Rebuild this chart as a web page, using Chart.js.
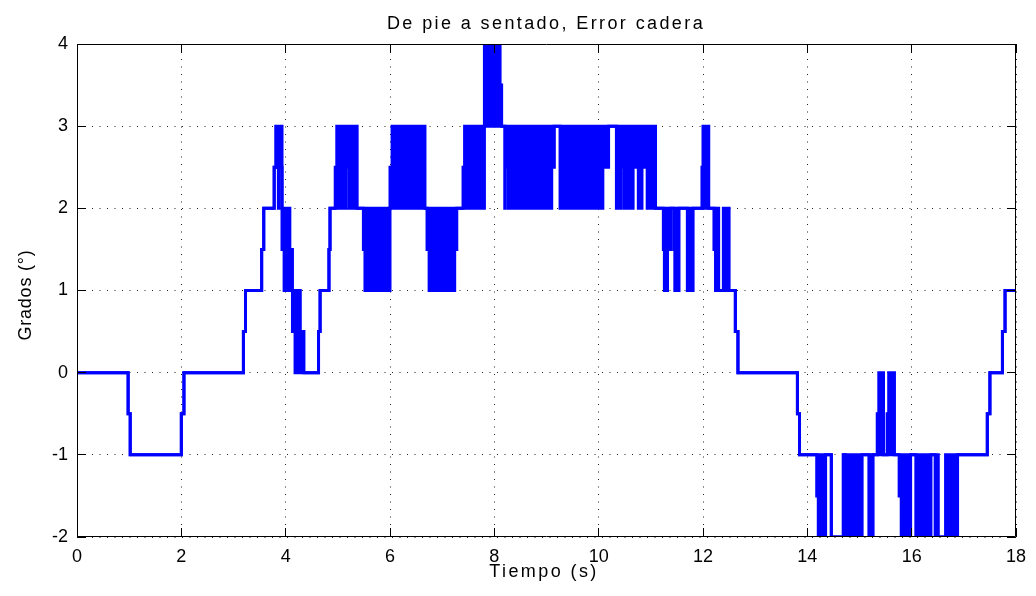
<!DOCTYPE html>
<html>
<head>
<meta charset="utf-8">
<title>De pie a sentado, Error cadera</title>
<script src="https://cdn.jsdelivr.net/npm/chart.js@4.4.0/dist/chart.umd.min.js"></script>
<style>
  html, body { margin: 0; padding: 0; background: #fff; }
  #wrap { width: 1036px; height: 596px; position: relative; }
</style>
</head>
<body>
<div id="wrap"><canvas id="chart"></canvas></div>
<script>
const titulo = 'De pie a sentado, Error cadera';
const etiquetaX = 'Tiempo (s)';
const etiquetaY = 'Grados (°)';
const ticksX = [0, 2, 4, 6, 8, 10, 12, 14, 16, 18];
const ticksY = [-2, -1, 0, 1, 2, 3, 4];

// instantes (s) donde cambia la señal; superior/inferior = envolvente de la oscilación rápida
const tiempo = [
  0, 0.98, 1.02, 2.00, 2.05, 3.19, 3.23, 3.54, 3.58, 3.78, 3.81, 3.86, 3.87,
  3.93, 3.97, 4.08, 4.13, 4.18, 4.28, 4.35, 4.63, 4.66, 4.83, 4.85,
  4.95, 4.98, 5.07, 5.12, 5.16, 5.22, 5.37, 5.49, 5.52, 5.57, 5.61,
  6.00, 6.04, 6.13, 6.18, 6.30, 6.34, 6.67, 6.71, 6.75, 7.12, 7.17, 7.24, 7.28,
  7.40, 7.43, 7.67, 7.71, 7.81, 8.11, 8.14, 8.20, 8.21, 8.27, 8.40, 8.43,
  9.10, 9.15, 9.26, 9.46, 9.49, 10.01, 10.06, 10.08, 10.19, 10.34, 10.42, 10.48,
  10.66, 10.76, 10.83, 10.93, 11.09, 11.24, 11.26, 11.32, 11.38, 11.44, 11.46, 11.54,
  11.70, 11.81, 11.98, 12.00, 12.11, 12.21, 12.24, 12.30, 12.39, 12.50, 12.62, 12.67,
  13.81, 13.85, 14.18, 14.21, 14.35, 14.46, 14.69, 14.73, 14.80, 14.84, 15.05,
  15.18, 15.26, 15.34, 15.37, 15.46, 15.53, 15.56, 15.67, 15.76, 15.80, 15.98,
  16.08, 16.20, 16.24, 16.37, 16.45, 16.51, 16.65, 16.88, 17.45, 17.50, 17.74, 17.79, 18.00
];
const superior = [
  0, -0.5, -1, -0.5, 0, 0.5, 1, 1.5, 2, 2.5, 3, 3, 3,
  2, 2, 1.5, 1, 1, 0.5, 0, 0.5, 1, 1.5, 2,
  2.5, 3, 2.5, 3, 3, 3, 2, 2, 2, 2, 2,
  2.5, 3, 3, 3, 3, 3, 2, 2, 2, 2, 2, 2, 2,
  2.5, 3, 3, 3, 4, 3.5, 3, 3, 3, 3, 3, 3,
  3, 3, 3, 3, 3, 3, 3, 3, 3, 3, 3, 3,
  3, 3, 3, 3, 2, 2, 2, 2, 2, 2, 2, 2,
  2, 2, 2.5, 3, 2, 2, 2, 1, 2, 1, 0.5, 0,
  -0.5, -1, -1, -1, -1, -2, -1, -1, -1, -1, -1,
  -1, -1, -0.5, 0, -1, -0.5, 0, -1, -1, -1, -1,
  -1, -1, -1, -1, -1, -2, -1, -1, -0.5, 0, 0.5, 1, 1
];
const inferior = [
  0, -0.5, -1, -0.5, 0, 0.5, 1, 1.5, 2, 2.5, 2.5, 2, 2.5,
  1.5, 1, 1, 0.5, 0, 0, 0, 0.5, 1, 1.5, 2,
  2, 2, 2, 2, 2.5, 2, 2, 1.5, 1, 1.5, 1,
  2, 2, 2.5, 2, 2.5, 2, 2, 1.5, 1, 1.5, 1, 1.5, 2,
  2, 2, 2.5, 2, 3, 3, 3, 2, 2.5, 2, 2.5, 2,
  2.5, 3, 2, 2.5, 2, 2.5, 2, 2.5, 3, 2, 2.5, 2,
  2.5, 2, 2.5, 2, 2, 1.5, 1, 1.5, 2, 1.5, 1, 2,
  1, 2, 2, 2, 2, 1.5, 1, 1, 1, 1, 0.5, 0,
  -0.5, -1, -1.5, -2, -1, -2, -1, -2, -1.5, -2, -1,
  -2, -1, -1, -1, -1, -1, -1, -1, -1.5, -2, -1,
  -2, -1.5, -2, -1, -2, -2, -2, -1, -0.5, 0, 0.5, 1, 1
];

const azul = '#0000ff';
const fuente = '"Liberation Sans", Arial, sans-serif';

const marco = {
  id: 'marco',
  afterDraw(chart) {
    const { ctx, chartArea: a, scales: { x, y } } = chart;
    const al = p => Math.round(p - 0.5) + 0.5;
    ctx.save();
    ctx.strokeStyle = '#000';
    ctx.lineWidth = 1;
    ctx.setLineDash([]);
    ctx.beginPath();
    ctx.rect(a.left + 0.5, a.top + 0.5, a.width - 1, a.height - 1);
    ticksX.forEach(v => {
      const px = al(x.getPixelForValue(v));
      ctx.moveTo(px, a.bottom); ctx.lineTo(px, a.bottom - 9);
      ctx.moveTo(px, a.top); ctx.lineTo(px, a.top + 9);
    });
    ticksY.forEach(v => {
      const py = al(y.getPixelForValue(v));
      ctx.moveTo(a.left, py); ctx.lineTo(a.left + 9, py);
      ctx.moveTo(a.right, py); ctx.lineTo(a.right - 9, py);
    });
    ctx.stroke();

    ctx.fillStyle = '#000';
    ctx.font = '18px ' + fuente;
    ctx.textAlign = 'center';
    ctx.textBaseline = 'alphabetic';
    ctx.letterSpacing = '2.4px';
    ctx.fillText(titulo, 546, 29);
    ctx.fillText(etiquetaX, 544, 577);
    ctx.letterSpacing = '0.8px';
    ctx.translate(31, 295);
    ctx.rotate(-Math.PI / 2);
    ctx.fillText(etiquetaY, 0, 0);
    ctx.restore();
  }
};

const serie = arr => tiempo.map((t, i) => ({ x: t, y: arr[i] }));

new Chart(document.getElementById('chart'), {
  type: 'line',
  data: {
    datasets: [{
      label: 'superior',
      data: serie(superior),
      borderColor: azul,
      backgroundColor: azul,
      borderWidth: 3,
      stepped: true,
      pointRadius: 0,
      fill: '+1'
    }, {
      label: 'inferior',
      data: serie(inferior),
      borderColor: azul,
      backgroundColor: azul,
      borderWidth: 3,
      stepped: true,
      pointRadius: 0,
      fill: false
    }]
  },
  options: {
    responsive: true,
    maintainAspectRatio: false,
    animation: false,
    events: [],
    layout: { padding: { left: 0, top: 44, right: 20, bottom: 0 } },
    plugins: {
      legend: { display: false },
      tooltip: { enabled: false },
      title: { display: false }
    },
    scales: {
      x: {
        type: 'linear',
        min: 0,
        max: 18,
        afterBuildTicks: s => { s.ticks = ticksX.map(v => ({ value: v })); },
        afterFit: s => { s.height = 59; },
        grid: { color: '#222', lineWidth: 1, drawTicks: false },
        border: { display: false, dash: [1, 6.5] },
        ticks: {
          autoSkip: false,
          maxRotation: 0,
          padding: 9,
          color: '#000',
          font: { family: fuente, size: 18 }
        }
      },
      y: {
        type: 'linear',
        min: -2,
        max: 4,
        afterBuildTicks: s => { s.ticks = ticksY.map(v => ({ value: v })); },
        afterFit: s => { s.width = 77; },
        grid: { color: '#222', lineWidth: 1, drawTicks: false },
        border: { display: false, dash: [1, 6.5] },
        ticks: {
          padding: 9,
          color: '#000',
          font: { family: fuente, size: 18 }
        }
      }
    }
  },
  plugins: [marco]
});
</script>
</body>
</html>
